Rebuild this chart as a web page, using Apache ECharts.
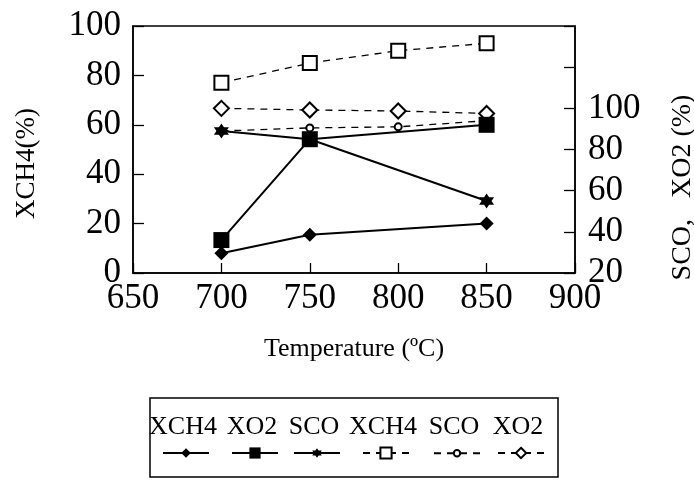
<!DOCTYPE html>
<html>
<head>
<meta charset="utf-8">
<script src="https://cdn.jsdelivr.net/npm/echarts@6/dist/echarts.min.js"></script>
<style>html,body{margin:0;padding:0;background:#fff;overflow:hidden}#c{width:694px;height:481px}</style>
</head>
<body>
<div id="c"></div>
<script>
// Temperatures (°C)
var temps3 = [700, 750, 850];
var temps4 = [700, 750, 800, 850];
// Solid series (3 points)
var xch4Solid = [8, 15.5, 20];      // left axis
var xo2Solid = [36, 85, 92];        // right axis
var scoSolid = [89, 85, 55];        // right axis
// Dashed series (4 points)
var xch4Dashed = [77, 85, 90, 93];  // left axis
var scoDashed = [89, 90.5, 91, 94]; // right axis
var xo2Dashed = [100, 99.2, 98.7, 97.5]; // right axis
// Axis ticks
var xTicks = [650, 700, 750, 800, 850, 900];
var leftTicks = [0, 20, 40, 60, 80, 100];
var rightTicks = [20, 40, 60, 80, 100, 120, 140];
var rightLabelMax = 100;
// Legend labels
var legendNames = ['XCH4', 'XO2', 'SCO', 'XCH4 ', 'SCO ', 'XO2 '];

function pairs(xs, ys) { return xs.map(function (x, i) { return [x, ys[i]]; }); }

var FONT = 'Liberation Serif';
var STAR = 'path://M0,-10 L2.89,-5 L8.66,-5 L5.77,0 L8.66,5 L2.89,5 L0,10 L-2.89,5 L-8.66,5 L-5.77,0 L-8.66,-5 L-2.89,-5 Z';

var chart = echarts.init(document.getElementById('c'), null, { width: 694, height: 481 });

var solidLine = { color: '#000', width: 2, type: 'solid' };
var dashLine = { color: '#000', width: 1.3, type: [7, 6] };

var series = [
  { name: legendNames[3], type: 'line', yAxisIndex: 0, data: pairs(temps4, xch4Dashed),
    symbol: 'emptyRect', symbolSize: 14, lineStyle: dashLine,
    itemStyle: { color: '#000', borderWidth: 1.3 }, z: 2 },
  { name: legendNames[4], type: 'line', yAxisIndex: 1, data: pairs(temps4, scoDashed),
    symbol: 'emptyCircle', symbolSize: 7, lineStyle: dashLine,
    itemStyle: { color: '#000', borderWidth: 1.3 }, z: 2 },
  { name: legendNames[5], type: 'line', yAxisIndex: 1, data: pairs(temps4, xo2Dashed),
    symbol: 'emptyDiamond', symbolSize: 15, lineStyle: dashLine,
    itemStyle: { color: '#000', borderWidth: 1.3 }, z: 2 },
  { name: legendNames[0], type: 'line', yAxisIndex: 0, data: pairs(temps3, xch4Solid),
    symbol: 'diamond', symbolSize: 14, lineStyle: solidLine,
    itemStyle: { color: '#000' }, z: 3 },
  { name: legendNames[1], type: 'line', yAxisIndex: 1, data: pairs(temps3, xo2Solid),
    symbol: 'rect', symbolSize: 16, lineStyle: solidLine,
    itemStyle: { color: '#000' }, z: 3 },
  { name: legendNames[2], type: 'line', yAxisIndex: 1, data: pairs(temps3, scoSolid),
    symbol: STAR, symbolSize: 15, lineStyle: solidLine,
    itemStyle: { color: '#000' }, z: 3 }
];
series.forEach(function (s) { s.animation = false; s.silent = true; });

var legendOrder = [0, 1, 2, 3, 4, 5];
var iconCenters = [185, 254, 316, 385, 456, 520];
var iconHeights = [12, 14, 12, 14, 8, 13];
var legends = legendOrder.map(function (i, k) {
  return {
    data: [legendNames[i]], left: iconCenters[k] - 23, top: 453 - iconHeights[k] / 2,
    itemWidth: 46, itemHeight: iconHeights[k], padding: 0, itemGap: 0,
    formatter: function () { return ''; }, selectedMode: false,
    textStyle: { fontSize: 1 }
  };
});

var legendTextGraphics = legendOrder.map(function (i, k) {
  return {
    type: 'text', x: iconCenters[k] - 2, y: 427,
    style: { text: legendNames[i].trim(), fontFamily: FONT, fontSize: 26, fill: '#000',
             textAlign: 'center', textVerticalAlign: 'middle' }
  };
});

var axisLabelStyle = { fontFamily: FONT, fontSize: 35, color: '#000' };

chart.setOption({
  animation: false,
  backgroundColor: '#fff',
  grid: { left: 133, width: 442, top: 26, height: 247, show: true,
          outerBoundsMode: 'none', containLabel: false,
          borderColor: '#000', borderWidth: 1.5, backgroundColor: 'transparent' },
  legend: legends,
  xAxis: {
    type: 'value', min: xTicks[0], max: xTicks[xTicks.length - 1], interval: 50,
    name: 'Temperature (ºC)', nameLocation: 'middle', nameGap: 63,
    nameTextStyle: { fontFamily: FONT, fontSize: 26, color: '#000' },
    axisLine: { show: true, lineStyle: { color: '#000', width: 1.5 } },
    axisTick: { show: true, inside: true, length: 10, lineStyle: { color: '#000', width: 1.3 } },
    axisLabel: Object.assign({ margin: 8 }, axisLabelStyle),
    splitLine: { show: false }
  },
  yAxis: [
    {
      type: 'value', position: 'left', min: leftTicks[0], max: leftTicks[leftTicks.length - 1], interval: 20,
      name: 'XCH4(%)', nameLocation: 'middle', nameGap: 93, nameRotate: 90,
      nameTextStyle: { fontFamily: FONT, fontSize: 27, color: '#000', padding: [0, 28, 0, 0] },
      axisLine: { show: true, lineStyle: { color: '#000', width: 1.5 } },
      axisTick: { show: true, inside: true, length: 11, lineStyle: { color: '#000', width: 1.3 } },
      axisLabel: Object.assign({ margin: 12 }, axisLabelStyle),
      splitLine: { show: false }
    },
    {
      type: 'value', position: 'right', min: rightTicks[0], max: rightTicks[rightTicks.length - 1], interval: 20,
      name: 'SCO,   XO2 (%)', nameLocation: 'middle', nameGap: 94, nameRotate: 90,
      nameTextStyle: { fontFamily: FONT, fontSize: 28, color: '#000', padding: [0, 76, 0, 0] },
      axisLine: { show: true, lineStyle: { color: '#000', width: 1.5 } },
      axisTick: { show: true, inside: true, length: 11, lineStyle: { color: '#000', width: 1.3 } },
      axisLabel: Object.assign({ margin: 13, formatter: function (v) { return v > rightLabelMax ? '' : String(v); } }, axisLabelStyle),
      splitLine: { show: false }
    }
  ],
  graphic: [
    { type: 'rect', shape: { x: 150, y: 398, width: 408, height: 79 },
      style: { fill: 'none', stroke: '#000', lineWidth: 1.5 }, z: 0 }
  ].concat(legendTextGraphics),
  series: series
});
</script>
</body>
</html>
